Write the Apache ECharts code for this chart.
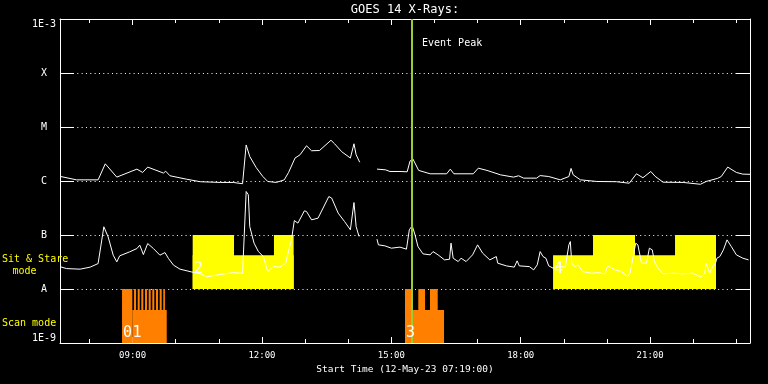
<!DOCTYPE html>
<html><head><meta charset="utf-8">
<script src="https://cdn.jsdelivr.net/npm/echarts@6/dist/echarts.min.js"></script>
<style>html,body{margin:0;padding:0;background:#000}#c{width:768px;height:384px}</style>
</head><body><div id="c"></div>
<script>
// ---- time axis (minutes after 00:00, 12-May-23) ----
const startMinute = 439;   // 07:19
const endMinute = 1399;    // 23:19
const tickMinutes = [480,540,600,660,720,780,840,900,960,1020,1080,1140,1200,1260,1320,1380];
const labelMinutes = [540,720,900,1080,1260];
const yTickLabels = ['1E-9','A','B','C','M','X','1E-3'];
const titleText = 'GOES 14 X-Rays:';
const xTitle = 'Start Time (12-May-23 07:19:00)';

// ---- GOES long channel (upper curve), W/m^2 ----
const longTimes = [440,462,492,502,518,546,554,561,583,586,592,615,634,662,680,693,698,703,712,721,728,740,751,757,766,773,782,789,800,816,821,831,843,848,851,856,868,880,892,898,912,922,926,930,938,954,977,982,987,1014,1021,1033,1052,1070,1077,1084,1102,1107,1119,1135,1147,1150,1153,1163,1186,1213,1231,1241,1250,1261,1267,1278,1306,1330,1338,1354,1359,1368,1380,1389,1399];
const longFlux = [1.21e-6,1.05e-6,1.05e-6,2.08e-6,1.18e-6,1.66e-6,1.44e-6,1.81e-6,1.40e-6,1.52e-6,1.25e-6,1.08e-6,0.97e-6,0.94e-6,0.94e-6,0.89e-6,4.65e-6,2.84e-6,1.77e-6,1.22e-6,0.98e-6,0.94e-6,1.05e-6,1.44e-6,2.66e-6,3.06e-6,4.49e-6,3.63e-6,3.67e-6,5.68e-6,4.89e-6,3.48e-6,2.66e-6,4.89e-6,3.06e-6,2.22e-6,null,1.66e-6,1.61e-6,1.50e-6,1.50e-6,1.48e-6,2.34e-6,2.55e-6,1.57e-6,1.36e-6,1.36e-6,1.66e-6,1.36e-6,1.36e-6,1.73e-6,1.57e-6,1.30e-6,1.18e-6,1.25e-6,1.13e-6,1.13e-6,1.26e-6,1.21e-6,1.05e-6,1.21e-6,1.71e-6,1.30e-6,1.05e-6,0.98e-6,0.97e-6,0.91e-6,1.36e-6,1.15e-6,1.50e-6,1.22e-6,0.95e-6,0.94e-6,0.87e-6,0.98e-6,1.12e-6,1.21e-6,1.81e-6,1.44e-6,1.34e-6,1.33e-6];

// ---- GOES short channel (lower curve), W/m^2 ----
const shortTimes = [440,448,467,481,492,500,506,513,518,522,536,546,550,555,561,569,578,585,590,597,606,622,634,643,661,680,693,698,701,703,709,715,722,728,736,745,753,758,761,765,770,779,782,789,798,813,817,826,835,843,848,851,855,868,880,882,891,900,912,921,925,929,933,937,944,954,958,965,974,981,983,986,993,997,1004,1013,1020,1027,1037,1046,1048,1060,1071,1075,1078,1092,1098,1103,1107,1111,1115,1119,1125,1134,1142,1147,1149,1151,1155,1160,1166,1178,1187,1197,1201,1211,1220,1229,1232,1236,1240,1243,1248,1255,1259,1263,1266,1271,1278,1292,1305,1319,1331,1336,1338,1343,1347,1351,1353,1357,1362,1367,1373,1380,1389,1397];
const shortFlux = [2.57e-8,2.39e-8,2.33e-8,2.54e-8,2.96e-8,1.42e-7,9.2e-8,4.23e-8,3.18e-8,4.11e-8,4.88e-8,5.61e-8,6.49e-8,4.34e-8,6.95e-8,5.61e-8,4.23e-8,4.73e-8,3.66e-8,2.76e-8,2.33e-8,2.07e-8,1.93e-8,1.68e-8,1.85e-8,2.01e-8,1.95e-8,6.39e-7,5.55e-7,1.43e-7,7.06e-8,4.93e-8,3.99e-8,2.10e-8,2.60e-8,2.54e-8,3.01e-8,5.70e-8,8.13e-8,1.85e-7,1.66e-7,2.80e-7,2.72e-7,1.91e-7,2.05e-7,5.16e-7,4.82e-7,2.54e-7,1.77e-7,1.25e-7,3.99e-7,1.43e-7,9.4e-8,null,8.38e-8,6.57e-8,6.30e-8,5.70e-8,5.96e-8,5.47e-8,1.25e-7,1.48e-7,1.00e-7,6.11e-8,4.47e-8,4.29e-8,4.93e-8,4.29e-8,3.46e-8,3.56e-8,7.06e-8,3.72e-8,3.22e-8,3.72e-8,3.22e-8,4.29e-8,6.57e-8,4.61e-8,3.46e-8,3.99e-8,3.01e-8,2.68e-8,2.54e-8,3.32e-8,2.68e-8,2.60e-8,2.26e-8,2.80e-8,4.93e-8,3.99e-8,3.72e-8,2.68e-8,2.43e-8,2.60e-8,2.54e-8,6.57e-8,7.57e-8,3.01e-8,2.60e-8,2.80e-8,2.10e-8,1.96e-8,2.01e-8,1.91e-8,2.68e-8,2.26e-8,2.10e-8,1.70e-8,1.96e-8,3.72e-8,7.06e-8,6.57e-8,3.01e-8,3.01e-8,5.70e-8,5.31e-8,3.22e-8,2.43e-8,1.91e-8,1.96e-8,1.91e-8,1.96e-8,1.66e-8,1.96e-8,3.01e-8,1.96e-8,2.60e-8,3.01e-8,3.72e-8,3.99e-8,5.31e-8,8.13e-8,6.11e-8,4.29e-8,3.72e-8,3.46e-8];

// ---- Scan mode blocks (orange), from 1E-9 up to top ----
const scanBase = 1e-9;
const scanStart = [525.3,539.6,542.0,547.1,552.1,557.3,562.4,567.4,572.6,577.7,582.7,919.0,919.0,937.5,953.8];
const scanEnd   = [539.6,587.5,544.8,549.9,554.9,560.1,565.2,570.2,575.4,580.5,585.0,973.3,929.7,946.8,964.5];
const scanTop   = [1e-8,4.1e-9,1e-8,1e-8,1e-8,1e-8,1e-8,1e-8,1e-8,1e-8,1e-8,4.1e-9,1e-8,1e-8,1e-8];

// ---- Sit & Stare blocks (yellow), from 1E-8 up to top ----
const stareBase = 1e-8;
const stareStart = [623.6,623.6,736.7,1125.0,1180.6,1294.7];
const stareEnd   = [764.1,681.1,764.1,1351.7,1239.0,1351.7];
const stareTop   = [4.2e-8,1e-7,1e-7,4.2e-8,1e-7,1e-7];

// ---- event numbers ----
const eventLabels = ['0','1','2','3','4'];
const eventMinutes = [525.3,538.5,623.6,919.0,1125.0];
const eventKinds = ['scan','scan','stare','scan','stare'];
const eventPeakMinute = 928;

const FONT = "'DejaVu Sans Mono', monospace";
const WHITE = '#ffffff';
const fmtHM = m => { m = Math.round(m); const h = Math.floor(m/60), mm = m%60; return String(h).padStart(2,'0')+':'+String(mm).padStart(2,'0'); };
const pairs = (t, f) => t.map((x, i) => [x, f[i] === null ? '-' : f[i]]);

const scanData = scanStart.map((s,i)=>[s, scanEnd[i], scanBase, scanTop[i]]);
const stareData = stareStart.map((s,i)=>[s, stareEnd[i], stareBase, stareTop[i]]);
const eventData = eventMinutes.map((m,i)=>[m, eventKinds[i]==='scan'?scanBase:stareBase, eventLabels[i], eventKinds[i]]);

function blockItem(params, api) {
  const p0 = api.coord([api.value(0), api.value(3)]);
  const p1 = api.coord([api.value(1), api.value(2)]);
  return { type:'rect', shape:{ x:p0[0], y:p0[1], width:p1[0]-p0[0], height:p1[1]-p0[1] }, style:{ fill: api.visual('color') } };
}
function labelItem(params, api) {
  const i = params.dataIndex;
  const p = api.coord([eventMinutes[i], eventKinds[i]==='scan'?scanBase:stareBase]);
  const dy = eventKinds[i]==='scan' ? -2 : -12;
  return { type:'text', x:p[0]+1, y:p[1]+dy, style:{ text:eventLabels[i], fill:WHITE, font:"15px 'DejaVu Sans Mono', monospace", textAlign:'left', textVerticalAlign:'bottom' } };
}
function yLabel(v) {
  const k = Math.round(Math.log10(v)) + 9;
  const s = yTickLabels[k];
  return k === yTickLabels.length - 1 ? '\n' + s : s;
}

const tickLine = { color: WHITE, width: 1 };
const xBase = { type:'value', min:startMinute, max:endMinute, gridIndex:0, splitLine:{show:false} };
const yBase = { type:'log', logBase:10, min:1e-9, max:1e-3, gridIndex:0 };

const option = {
  backgroundColor: '#000000',
  animation: false,
  grid: { left:60, right:18, top:19, bottom:41, containLabel:false },
  xAxis: [
    Object.assign({}, xBase, { position:'bottom', axisLine:{show:true, lineStyle:tickLine},
      axisTick:{show:true, inside:true, length:6, customValues:labelMinutes, lineStyle:tickLine},
      axisLabel:{show:true, customValues:labelMinutes, formatter:v=>fmtHM(v), color:WHITE, fontFamily:FONT, fontSize:9, margin:8},
      name:xTitle, nameLocation:'middle', nameGap:19, nameTextStyle:{color:WHITE, fontFamily:FONT, fontSize:9.5} }),
    Object.assign({}, xBase, { position:'bottom', axisLine:{show:false},
      axisTick:{show:true, inside:true, length:4, customValues:tickMinutes, lineStyle:tickLine}, axisLabel:{show:false} }),
    Object.assign({}, xBase, { position:'top', axisLine:{show:true, lineStyle:tickLine},
      axisTick:{show:true, inside:true, length:6, customValues:labelMinutes, lineStyle:tickLine}, axisLabel:{show:false} }),
    Object.assign({}, xBase, { position:'top', axisLine:{show:false},
      axisTick:{show:true, inside:true, length:4, customValues:tickMinutes, lineStyle:tickLine}, axisLabel:{show:false} })
  ],
  yAxis: [
    Object.assign({}, yBase, { position:'left', axisLine:{show:true, lineStyle:tickLine},
      axisTick:{show:true, inside:true, length:14, lineStyle:tickLine},
      axisLabel:{show:true, color:WHITE, fontFamily:FONT, fontSize:10, lineHeight:10, margin:16, align:'center',
        verticalAlignMinLabel:'bottom', formatter:yLabel },
      splitLine:{show:true, lineStyle:{color:WHITE, width:1, type:[1,3.33]}} }),
    Object.assign({}, yBase, { position:'right', axisLine:{show:true, lineStyle:tickLine},
      axisTick:{show:true, inside:true, length:14, lineStyle:tickLine}, axisLabel:{show:false}, splitLine:{show:false} })
  ],
  graphic: [
    { type:'text', x:405, y:10, style:{ text:titleText, fill:WHITE, font:"12px 'DejaVu Sans Mono', monospace", textAlign:'center', textVerticalAlign:'middle' } },
    { type:'text', x:422, y:43.5, z:10, style:{ text:'Event Peak', fill:WHITE, font:"10px 'DejaVu Sans Mono', monospace", textAlign:'left', textVerticalAlign:'middle' } },
    { type:'text', x:2, y:259, z:10, style:{ text:'Sit & Stare', fill:'#ffff00', font:"10px 'DejaVu Sans Mono', monospace", textAlign:'left', textVerticalAlign:'middle' } },
    { type:'text', x:12.5, y:271, z:10, style:{ text:'mode', fill:'#ffff00', font:"10px 'DejaVu Sans Mono', monospace", textAlign:'left', textVerticalAlign:'middle' } },
    { type:'text', x:2, y:323, z:10, style:{ text:'Scan mode', fill:'#ffff00', font:"10px 'DejaVu Sans Mono', monospace", textAlign:'left', textVerticalAlign:'middle' } }
  ],
  series: [
    { type:'custom', name:'Scan', xAxisIndex:0, yAxisIndex:0, z:1, itemStyle:{color:'#ff7f00'}, renderItem:blockItem, data:scanData, encode:{x:[0,1], y:[2,3]}, silent:true },
    { type:'custom', name:'Stare', xAxisIndex:0, yAxisIndex:0, z:1, itemStyle:{color:'#ffff00'}, renderItem:blockItem, data:stareData, encode:{x:[0,1], y:[2,3]}, silent:true },
    { type:'line', name:'Long', xAxisIndex:0, yAxisIndex:0, z:3, data:pairs(longTimes,longFlux), showSymbol:false, symbol:'none', connectNulls:false, lineStyle:{color:WHITE, width:1}, silent:true },
    { type:'line', name:'Short', xAxisIndex:0, yAxisIndex:0, z:3, data:pairs(shortTimes,shortFlux), showSymbol:false, symbol:'none', connectNulls:false, lineStyle:{color:WHITE, width:1}, silent:true },
    { type:'custom', name:'Events', xAxisIndex:0, yAxisIndex:0, z:5, renderItem:labelItem, data:eventData, encode:{x:0, y:1}, silent:true,
      markLine:{ silent:true, symbol:['none','none'], label:{show:false}, lineStyle:{color:'#9acd32', width:2, type:'solid'}, data:[{xAxis:eventPeakMinute}], animation:false } }
  ]
};
const chart = echarts.init(document.getElementById('c'));
chart.setOption(option);
</script>
</body></html>
